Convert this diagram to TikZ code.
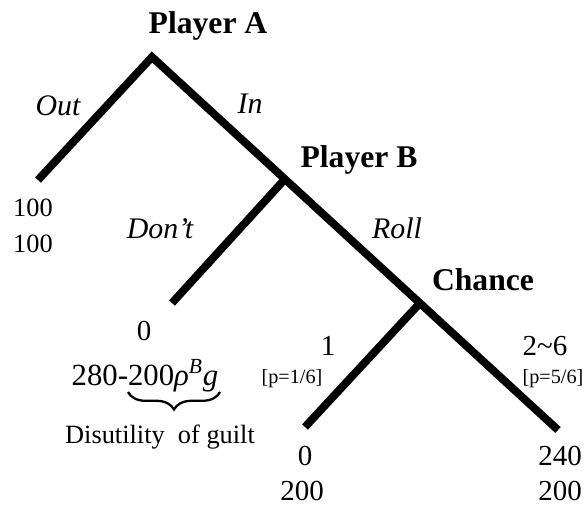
\documentclass[tikz,border=0pt]{standalone}
\usepackage{fontspec}
\setmainfont{Liberation Serif}
\usetikzlibrary{decorations.pathreplacing}

\begin{document}
\begin{tikzpicture}[x=0.02cm, y=-0.02cm,
    branch/.style={line width=4.5pt, line join=miter},
    player/.style={anchor=base, font=\fontsize{18}{20}\selectfont\bfseries},
    move/.style={anchor=base, font=\fontsize{17}{20}\selectfont\itshape},
    payoff/.style={anchor=base, font=\fontsize{16.5}{20}\selectfont},
    prob/.style={anchor=base, font=\fontsize{11.5}{14}\selectfont}]
        \useasboundingbox (0,0) rectangle (588,508);

        % decision points
        \coordinate (pa) at (152,57);
        \coordinate (pb) at (285,179);
        \coordinate (ch) at (420,303);
        \coordinate (outend) at (38,180);
        \coordinate (dontend) at (172,303);
        \coordinate (oneend) at (305,427);
        \coordinate (sixend) at (558,430);

        % tree
        \draw[branch] (outend) -- (pa) -- (sixend);
        \draw[branch] (pb) -- (dontend);
        \draw[branch] (ch) -- (oneend);

        % players
        \node[player] (plA) at (208,33) {Player A};
        \node[player] (plB) at (359,167) {Player B};
        \node[player] (chn) at (483,290) {Chance};

        % moves
        \node[move] (mout) at (58,115) {Out};
        \node[move] (min) at (250,113) {In};
        \node[move] (mdont) at (160,238) {Don’t};
        \node[move] (mroll) at (397,238) {Roll};
        \node[payoff] (mone) at (328,355) {1};
        \node[payoff] (msix) at (545,355) {2\textasciitilde6};
        \node[prob] (pone) at (292,383) {[p=1/6]};
        \node[prob] (psix) at (553,383) {[p=5/6]};

        % payoffs
        \node[payoff, font=\fontsize{15}{18}\selectfont] (outA) at (33,216) {100};
        \node[payoff, font=\fontsize{15}{18}\selectfont] (outB) at (33,252) {100};
        \node[payoff] (dontA) at (144,340) {0};
        \node[payoff, font=\fontsize{17.5}{20}\selectfont] (dontB) at (145,385)
          {280-200\textit{ρ}\textsuperscript{\textit{B}}\textit{g}};
        \node[payoff] (oneA) at (305,465) {0};
        \node[payoff] (oneB) at (302,500) {200};
        \node[payoff] (sixA) at (560,465) {240};
        \node[payoff] (sixB) at (560,500) {200};

        % guilt term
        \draw[decorate, decoration={brace, mirror, amplitude=10pt}, line width=1.3pt]
          (128,392) -- (220,392);
        \node[anchor=base, font=\fontsize{15}{18}\selectfont]
          (guilt) at (160,443) {Disutility\hspace{0.25em} of guilt};
\end{tikzpicture}
\end{document}
